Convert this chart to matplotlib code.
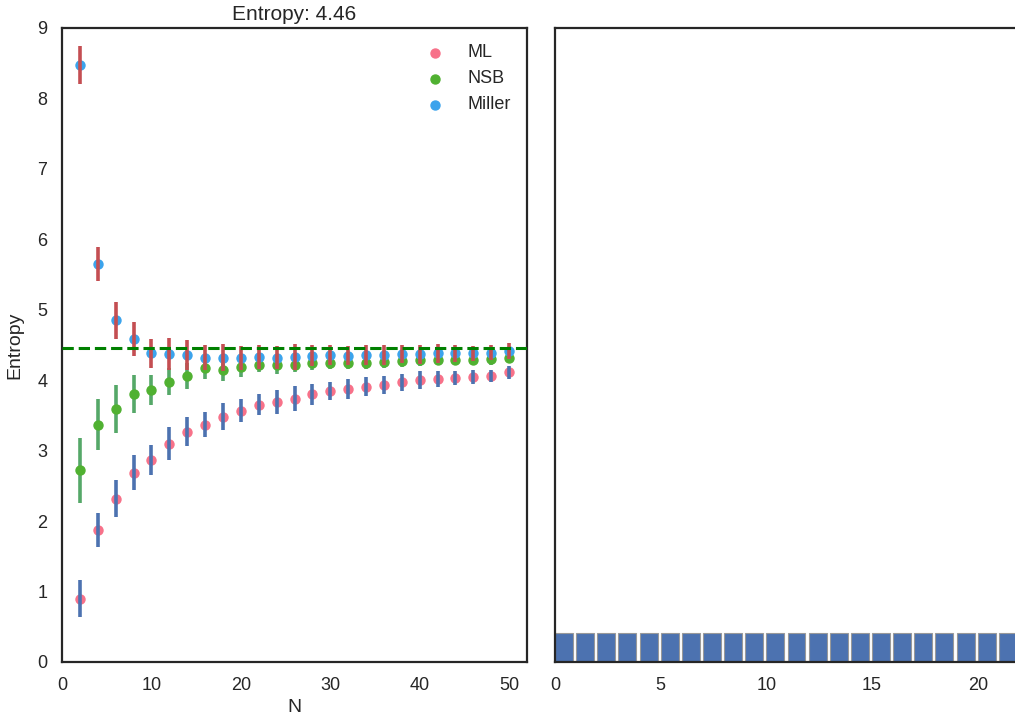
import numpy as np
import matplotlib.pyplot as plt
import seaborn as sns

# sample sizes
N = [2, 4, 6, 8, 10, 12, 14, 16, 18, 20, 22, 24, 26,
     28, 30, 32, 34, 36, 38, 40, 42, 44, 46, 48, 50]

# plug-in (maximum likelihood) estimate
ml = [0.90, 1.87, 2.32, 2.69, 2.87, 3.10, 3.27, 3.37, 3.48, 3.57, 3.65, 3.69, 3.74,
      3.80, 3.85, 3.88, 3.91, 3.93, 3.97, 4.00, 4.02, 4.03, 4.05, 4.06, 4.11]
ml_err = [0.265, 0.24, 0.265, 0.245, 0.21, 0.23, 0.21, 0.18, 0.19, 0.17, 0.15, 0.17, 0.18,
          0.15, 0.13, 0.14, 0.13, 0.13, 0.12, 0.13, 0.11, 0.095, 0.10, 0.09, 0.09]

# NSB estimate
nsb = [2.72, 3.37, 3.59, 3.81, 3.86, 3.98, 4.06, 4.18, 4.15, 4.19, 4.21, 4.21, 4.22,
       4.24, 4.25, 4.25, 4.25, 4.26, 4.27, 4.28, 4.29, 4.29, 4.29, 4.30, 4.32]
nsb_err = [0.46, 0.36, 0.345, 0.27, 0.21, 0.19, 0.18, 0.165, 0.165, 0.14, 0.10, 0.12, 0.10,
           0.09, 0.09, 0.09, 0.09, 0.08, 0.08, 0.08, 0.08, 0.08, 0.08, 0.08, 0.08]

# Miller-Madow corrected estimate
miller = [8.47, 5.65, 4.85, 4.59, 4.38, 4.37, 4.36, 4.32, 4.32, 4.32, 4.33, 4.32, 4.33,
          4.35, 4.36, 4.35, 4.36, 4.36, 4.37, 4.37, 4.38, 4.38, 4.38, 4.39, 4.41]
miller_err = [0.27, 0.24, 0.26, 0.24, 0.20, 0.23, 0.215, 0.175, 0.19, 0.17, 0.165, 0.165, 0.19,
              0.155, 0.145, 0.14, 0.14, 0.14, 0.13, 0.135, 0.135, 0.115, 0.11, 0.11, 0.115]

true_entropy = 4.46

# the distribution: 22 equally likely states
n_states = 22
probs = [1.0 / n_states] * n_states

sns.set_style('white')
plt.rcParams['font.family'] = ['Liberation Sans', 'DejaVu Sans']
plt.rcParams['axes.edgecolor'] = '.15'
plt.rcParams['axes.linewidth'] = 1.6

deep = sns.color_palette('deep')
husl = sns.color_palette('husl', 3)

fig = plt.figure(figsize=(10.15, 7.19), dpi=100)
ax1 = fig.add_axes([62 / 1015, 1 - 662 / 719, 465 / 1015, 634 / 719])
ax2 = fig.add_axes([555 / 1015, 1 - 662 / 719, 465 / 1015, 634 / 719])

ax1.scatter(N, ml, s=42, color=husl[0], label='ML', zorder=2)
ax1.scatter(N, nsb, s=42, color=husl[1], label='NSB', zorder=2)
ax1.scatter(N, miller, s=42, color=husl[2], label='Miller', zorder=2)
ax1.errorbar(N, nsb, yerr=nsb_err, fmt='none', ecolor='#55A868', elinewidth=2.6, zorder=1)
ax1.errorbar(N, ml, yerr=ml_err, fmt='none', ecolor='#4C72B0', elinewidth=2.6, zorder=3)
ax1.errorbar(N, miller, yerr=miller_err, fmt='none', ecolor='#C44E52', elinewidth=2.6, zorder=3)
ax1.axhline(true_entropy, color='g', ls='--', lw=2.2, zorder=4)

ax1.set_xlim(0, 52)
ax1.set_ylim(0, 9)
ax1.set_xticks([0, 10, 20, 30, 40, 50])
ax1.set_xlabel('N', fontsize=14)
ax1.set_ylabel('Entropy', fontsize=14, labelpad=10)
ax1.set_title('Entropy: %.2f' % true_entropy, fontsize=15)
ax1.tick_params(labelsize=13, pad=7)
ax1.legend(loc='upper right', fontsize=13, frameon=False, handletextpad=0.8)

ax2.bar(np.arange(n_states), probs, width=0.85, align='edge',
        color=deep[0], edgecolor='.6', linewidth=0.8)
ax2.set_xlim(0, 22)
ax2.set_ylim(0, 1)
ax2.set_yticks([])
ax2.set_xticks([0, 5, 10, 15, 20])
ax2.tick_params(labelsize=13, pad=7)

fig.savefig('out.png', dpi=100)
